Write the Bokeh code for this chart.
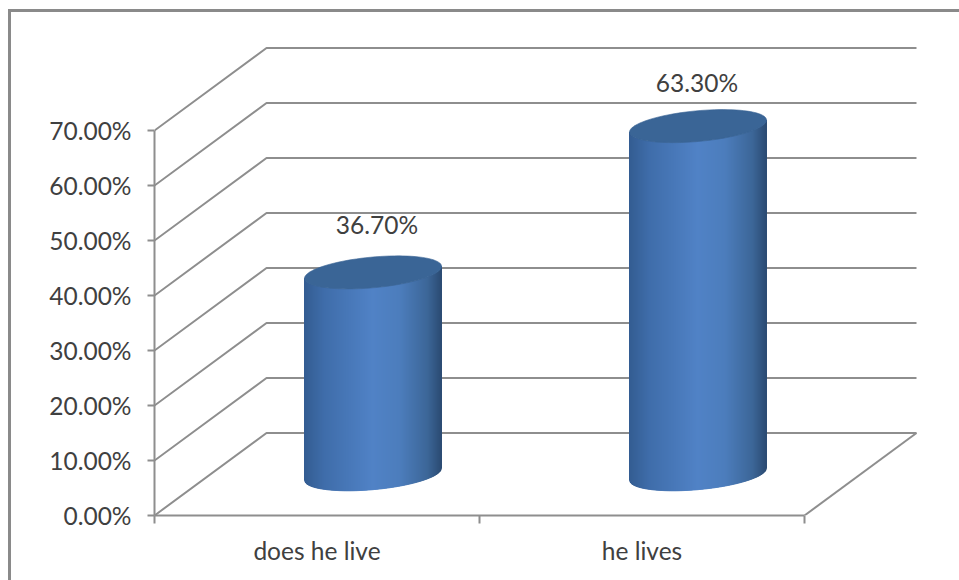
from bokeh.plotting import figure
from bokeh.models import FixedTicker, Range1d, ColumnDataSource
from bokeh.core.properties import value
from bokeh.embed import file_html
from bokeh.resources import INLINE
import math

categories = ["does he live", "he lives"]
series_values = [36.7, 63.3]
value_labels = ["36.70%", "63.30%"]
y_ticks = [0, 10, 20, 30, 40, 50, 60, 70]
y_tick_labels = ["0.00%", "10.00%", "20.00%", "30.00%", "40.00%", "50.00%", "60.00%", "70.00%"]

FONT = "Lato"
FONT_PX = "24.5px"
TEXT = "#404040"
GRID = "#8e8e8e"
PX_X = 325.0   # pixels per category
PX_Y = 5.5     # pixels per percent
FRAME_W, FRAME_H = 805, 515
DEPTH_X = 112 / PX_X
DEPTH_Y = 82.5 / PX_Y
HALF_W = 68.5 / PX_X
TILT = 6 / PX_Y
MINOR = 15.4 / PX_Y
LABEL_DX = [4 / PX_X, -1 / PX_X]
LABEL_DY = [8.7, 7.9]
STOPS = [(0.0, (0x33, 0x5c, 0x91)), (0.15, (0x3f, 0x6d, 0xaa)), (0.5, (0x50, 0x82, 0xc6)),
         (0.7, (0x4c, 0x7d, 0xbc)), (0.9, (0x3c, 0x66, 0x98)), (1.0, (0x2b, 0x4b, 0x73))]
TOP_COLOR = "#3a6596"
STRIPS = 137
BORDER = "#8a8a8a"


def shade(f):
    for (a, ca), (b, cb) in zip(STOPS, STOPS[1:]):
        if f <= b:
            k = (f - a) / (b - a)
            return "#%02x%02x%02x" % tuple(round(p + (q - p) * k) for p, q in zip(ca, cb))
    return "#2b4b73"


p = figure(width=959, height=580, output_backend="svg", toolbar_location=None,
           x_range=Range1d(0, FRAME_W / PX_X), y_range=Range1d(0, FRAME_H / PX_Y),
           min_border_left=154, min_border_bottom=65, min_border_top=0, min_border_right=0)
p.outline_line_color = None
p.grid.visible = False
p.background_fill_color = None
p.border_fill_color = None
# outer chart border: only its left and top edges fall inside the page
p.styles = {
    "background-image": f"linear-gradient({BORDER},{BORDER}), linear-gradient({BORDER},{BORDER})",
    "background-position": "8px 9px, 8px 9px",
    "background-size": "3px 100%, 100% 3px",
    "background-repeat": "no-repeat",
}

# walls and floor
n_cat = len(categories)
gx, gy = [], []
for v in y_ticks:
    gx.append([0, DEPTH_X, n_cat + DEPTH_X])
    gy.append([v, v + DEPTH_Y, v + DEPTH_Y])
gx.append([n_cat, n_cat + DEPTH_X])
gy.append([0, DEPTH_Y])
p.multi_line(gx, gy, line_color=GRID, line_width=2)

# cylinders
sx, sy, sc = [], [], []
ex, ey = [], []
lx, ly, lt = [], [], []
for i, val in enumerate(series_values):
    cx = i + 0.5 + DEPTH_X / 2
    cy0 = DEPTH_Y / 2
    cy1 = cy0 + val

    def low(s, c):
        return c + TILT * s - MINOR * math.sqrt(max(0.0, 1 - s * s))

    for k in range(STRIPS):
        f0, f1 = k / STRIPS, (k + 1) / STRIPS
        s0, s1 = 2 * f0 - 1, 2 * f1 - 1
        sx.append([cx + HALF_W * s0, cx + HALF_W * s1, cx + HALF_W * s1, cx + HALF_W * s0])
        sy.append([low(s0, cy0), low(s1, cy0), low(s1, cy1), low(s0, cy1)])
        sc.append(shade((f0 + f1) / 2))
    ts = [2 * math.pi * j / 90 for j in range(90)]
    ex.append([cx + HALF_W * math.cos(t) for t in ts])
    ey.append([cy1 + TILT * math.cos(t) + MINOR * math.sin(t) for t in ts])
    lx.append(cx + LABEL_DX[i])
    ly.append(cy1 + LABEL_DY[i])
    lt.append(value_labels[i])

p.patches(sx, sy, fill_color=sc, line_color=sc, line_width=1)
p.patches(ex, ey, fill_color=TOP_COLOR, line_color=TOP_COLOR, line_width=0.6)

p.text(x="x", y="y", text="t", source=ColumnDataSource(dict(x=lx, y=ly, t=lt)),
       text_font=value(FONT), text_font_size=FONT_PX, text_color=TEXT,
       text_align="center", text_baseline="middle")

# axes
ya = p.yaxis[0]
ya.ticker = FixedTicker(ticks=y_ticks)
ya.major_label_overrides = dict(zip(y_ticks, y_tick_labels))
ya.bounds = (0, 70)
ya.major_tick_out = 7
ya.major_tick_in = 0
ya.minor_tick_out = 0
ya.minor_tick_in = 0
ya.major_label_standoff = 16
ya.axis_line_color = GRID
ya.axis_line_width = 2
ya.major_tick_line_color = GRID
ya.major_tick_line_width = 2
ya.major_label_text_font = FONT
ya.major_label_text_font_size = FONT_PX
ya.major_label_text_color = TEXT

xa = p.xaxis[0]
centers = [i + 0.5 for i in range(n_cat)]
xa.ticker = FixedTicker(ticks=centers, minor_ticks=list(range(n_cat + 1)))
xa.major_label_overrides = dict(zip(centers, categories))
xa.bounds = (0, n_cat)
xa.major_tick_out = 0
xa.major_tick_in = 0
xa.minor_tick_out = 8
xa.minor_tick_in = 0
xa.major_label_standoff = 12
xa.axis_line_color = GRID
xa.axis_line_width = 2
xa.minor_tick_line_color = GRID
xa.minor_tick_line_width = 2
xa.major_label_text_font = FONT
xa.major_label_text_font_size = FONT_PX
xa.major_label_text_color = TEXT

open("out.html", "w").write(file_html(p, INLINE))
